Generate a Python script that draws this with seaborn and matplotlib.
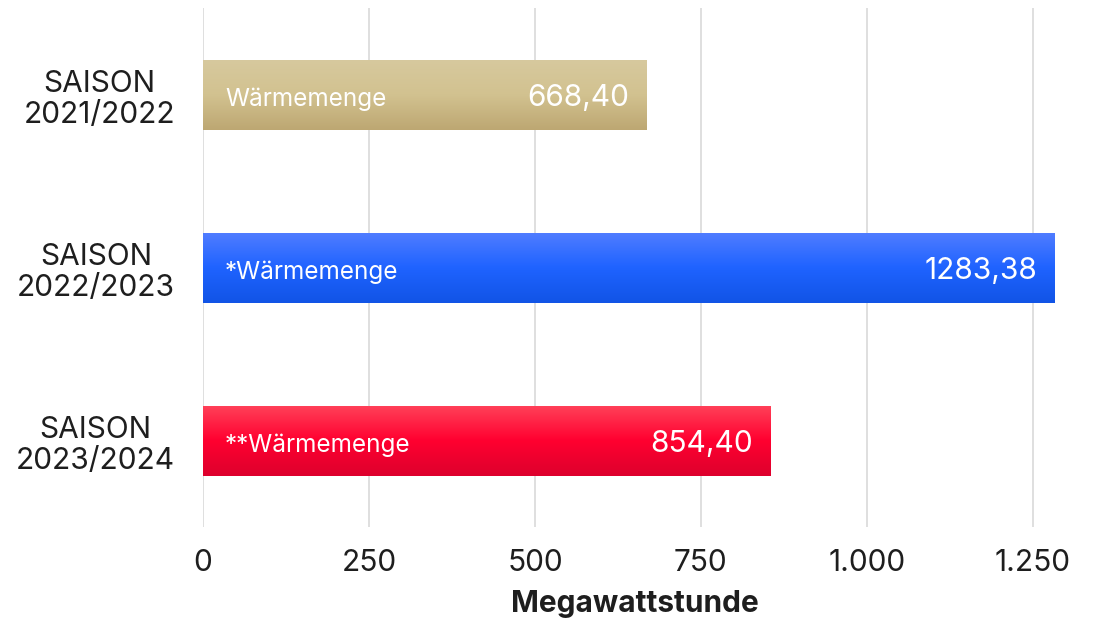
import numpy as np
import pandas as pd
import matplotlib
matplotlib.use("Agg")
import matplotlib.pyplot as plt
from matplotlib.colors import LinearSegmentedColormap
import seaborn as sns

# Data
seasons = ["SAISON\n2021/2022", "SAISON\n2022/2023", "SAISON\n2023/2024"]
values = [668.40, 1283.38, 854.40]
bar_labels = ["Wärmemenge", "*Wärmemenge", "**Wärmemenge"]
value_labels = ["668,40", "1283,38", "854,40"]
xticks = [0, 250, 500, 750, 1000, 1250]
xtick_labels = ["0", "250", "500", "750", "1.000", "1.250"]

# gradient stops (top, middle, bottom) for every bar
gradients = [
    ["#d7c99e", "#d2c290", "#bda772"],
    ["#517dff", "#1f63ff", "#1154e6"],
    ["#ff4259", "#ff0030", "#dd002d"],
]

sns.set_theme(style="white")
plt.rcParams["font.family"] = ["Inter", "DejaVu Sans"]

df = pd.DataFrame({"season": seasons, "mwh": values})

fig = plt.figure(figsize=(10.96, 6.23), dpi=100)
ax = fig.add_axes([0.1852, 0.154, 0.7874, 0.833])

sns.barplot(data=df, x="mwh", y="season", orient="h", width=0.405,
            color="#cccccc", ax=ax, zorder=2)

# overlay vertical gradient on each bar
for patch, stops in zip(ax.patches, gradients):
    cmap = LinearSegmentedColormap.from_list("g", stops)
    x0, y0 = patch.get_x(), patch.get_y()
    w, h = patch.get_width(), patch.get_height()
    grad = np.linspace(0, 1, 256).reshape(-1, 1)
    im = ax.imshow(grad, cmap=cmap, aspect="auto",
                   extent=[x0, x0 + w, y0 + h, y0], zorder=3,
                   interpolation="bicubic")
    im.set_clip_path(patch)
    patch.set_edgecolor("none")
ax.set_xlim(0, 1300)
ax.set_ylim(2.5, -0.5)

# texts inside the bars
for i, (v, lab, vl) in enumerate(zip(values, bar_labels, value_labels)):
    ax.text(33, i + 0.025, lab, color="white", fontsize=17.5, va="center", ha="left", zorder=4)
    ax.text(v - 26, i + 0.02, vl, color="white", fontsize=21.5, va="center", ha="right", zorder=4)

ax.set_xticks(xticks)
ax.set_xticklabels(xtick_labels)
ax.grid(axis="x", color="#dcdcdc", linewidth=1.3, zorder=0)
ax.grid(axis="y", visible=False)
for s in ax.spines.values():
    s.set_visible(False)

ax.tick_params(axis="x", length=0, pad=16, labelsize=21.5, labelcolor="#1e1e1e")
ax.tick_params(axis="y", length=0, pad=20, labelsize=21.5, labelcolor="#1e1e1e")
for t in ax.get_yticklabels():
    t.set_multialignment("center")
    t.set_linespacing(1.15)

ax.set_ylabel("")
ax.set_xlabel("Megawattstunde", fontsize=21.5, fontweight="bold", color="#1e1e1e", labelpad=9)

fig.savefig("out.png", dpi=100)
